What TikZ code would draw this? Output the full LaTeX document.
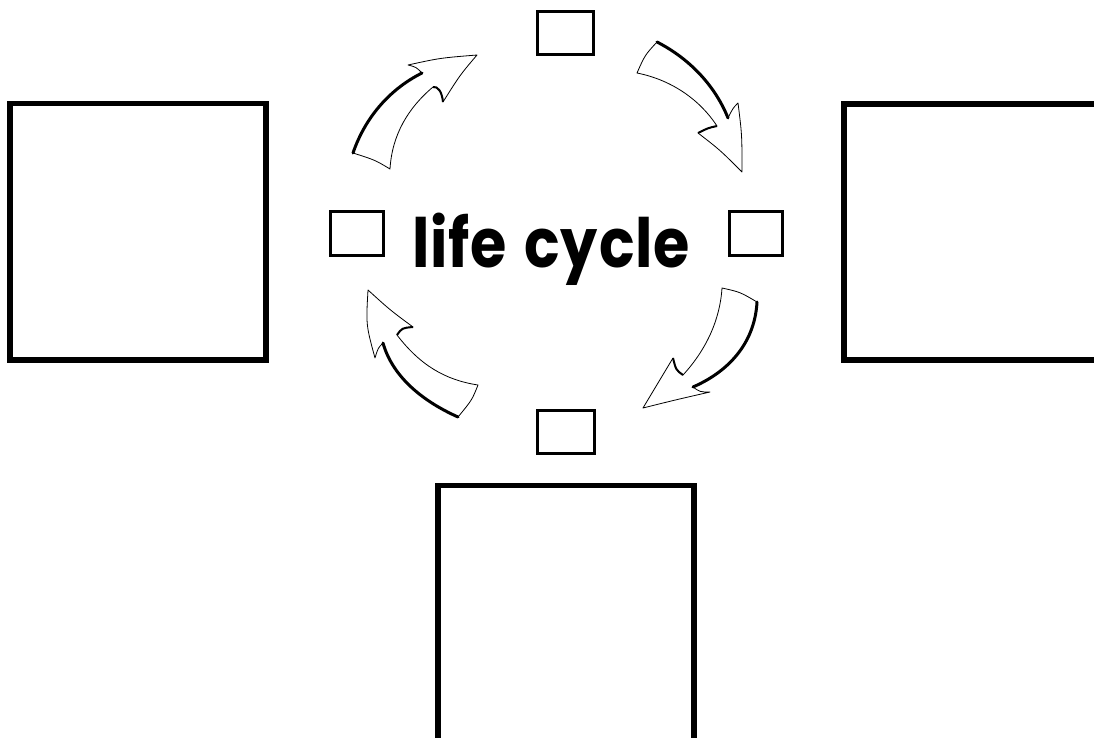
\documentclass[tikz,border=0pt]{standalone}
\usepackage{fontspec}
\setmainfont{Poppins}
\begin{document}
\begin{tikzpicture}[x=1pt,y=-1pt,
  bigbox/.style={draw,line width=5.5pt,inner sep=0pt,outer sep=0pt,anchor=north west},
  smallbox/.style={draw,line width=3pt,inner sep=0pt,outer sep=0pt,anchor=north west},
  arrowbody/.style={fill=white,draw,line width=0.8pt,line join=round},
  arrowedge/.style={line width=3pt,line cap=round}]
\useasboundingbox (0,0) rectangle (1094,738);

% large boxes
\node[bigbox,minimum width=256pt,minimum height=256.5pt] (leftbox) at (10,103.5) {};
\node[bigbox,minimum width=262pt,minimum height=256pt] (rightbox) at (844,104) {};
\node[bigbox,minimum width=256pt,minimum height=270pt] (bottombox) at (438,485.5) {};

% small boxes
\node[smallbox,minimum width=56pt,minimum height=43pt] (topsmall) at (537,12) {};
\node[smallbox,minimum width=57pt,minimum height=43pt] (bottomsmall) at (537,410) {};
\node[smallbox,minimum width=53pt,minimum height=44pt] (leftsmall) at (330,211) {};
\node[smallbox,minimum width=53pt,minimum height=44pt] (rightsmall) at (729,211) {};

% title
\node[anchor=base,font=\fontsize{68}{82}\selectfont\bfseries,inner sep=0pt] (title) at (551,267) {\resizebox{278pt}{\height}{\addfontfeature{LetterSpace=1.5}life\hspace{0.3em}cycle}};

% top-left arrow
\filldraw[arrowbody] (353,153) .. controls (366,115) and (392,88) .. (422,73) .. controls (416,67) .. (408,65) .. controls (440,58) .. (477,55) .. controls (460,75) .. (443,102) .. controls (442,92) and (438,86) .. (433,87) .. controls (408,108) and (392,135) .. (390,169) .. controls (375,160) .. cycle;
\draw[arrowedge] (353,153) .. controls (366,115) and (392,88) .. (422,73);
\draw[line width=2pt] (443,102) .. controls (442,92) and (438,86) .. (433,87);

% top-right arrow
\filldraw[arrowbody] (657,42) .. controls (692,60) and (716,88) .. (728,118) .. controls (733,108) .. (738,103) .. controls (742,135) .. (742,172) .. controls (720,150) .. (698,133) .. controls (708,128) .. (717,126) .. controls (700,100) and (672,80) .. (637,73) .. controls (645,55) .. cycle;
\draw[arrowedge] (657,42) .. controls (692,60) and (716,88) .. (728,118);
\draw[line width=2pt] (698,133) .. controls (708,128) .. (717,126);

% bottom-right arrow
\filldraw[arrowbody] (757,302) .. controls (755,340) and (732,370) .. (693,387) .. controls (700,392) .. (710,392) .. controls (675,400) .. (643,408) .. controls (658,383) .. (673,358) .. controls (676,370) .. (683,375) .. controls (706,350) and (720,320) .. (722,288) .. controls (740,292) .. cycle;
\draw[arrowedge] (757,302) .. controls (755,340) and (732,370) .. (693,387);
\draw[line width=2pt] (673,358) .. controls (676,370) .. (683,375);

% bottom-left arrow
\filldraw[arrowbody] (368,290) .. controls (390,310) .. (413,327) .. controls (402,328) .. (397,335) .. controls (420,365) and (445,380) .. (478,385) .. controls (472,400) .. (458,417) .. controls (420,400) and (392,375) .. (383,343) .. controls (378,348) .. (375,358) .. controls (366,325) .. cycle;
\draw[arrowedge] (458,417) .. controls (420,400) and (392,375) .. (383,343);
\draw[line width=2pt] (413,327) .. controls (402,328) .. (397,335);
\end{tikzpicture}
\end{document}
